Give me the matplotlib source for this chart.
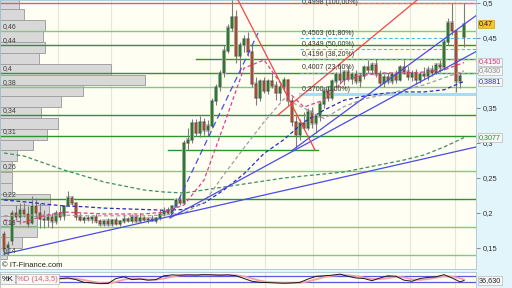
import matplotlib

matplotlib.use("Agg")

import matplotlib.pyplot as plt
from matplotlib.patches import Rectangle

plt.rcParams["font.family"] = ["Liberation Sans", "DejaVu Sans"]

# daily candles (index = session number)
opens = [.170, .150, .160, .200, .195, .205, .198, .186, .210, .200, .192, .190, .195, .188, .200,
         .196, .212, .222, .214, .195, .190, .193, .191, .194, .188, .184, .189, .184, .190, .185,
         .188, .191, .189, .195, .188, .193, .190, .192, .189, .193, .198, .203, .200, .210, .218,
         .215, .300, .305, .328, .315, .330, .318, .325, .360, .380, .400, .432, .465, .480, .425,
         .440, .448, .430, .385, .365, .388, .375, .388, .382, .372, .380, .390, .360, .330, .312,
         .328, .322, .345, .328, .338, .356, .375, .365, .388, .398, .390, .402, .392, .398, .388,
         .396, .408, .405, .412, .398, .386, .394, .388, .398, .390, .408, .402, .395, .400, .390,
         .398, .396, .405, .400, .412, .408, .445, .472, .460, .388, .452]
highs = [.175, .160, .205, .212, .215, .215, .210, .225, .222, .215, .205, .200, .200, .205, .210,
         .212, .232, .225, .216, .200, .196, .197, .195, .198, .192, .190, .193, .192, .194, .190,
         .199, .195, .198, .197, .200, .196, .194, .197, .195, .205, .208, .209, .212, .222, .224,
         .305, .322, .335, .335, .338, .336, .333, .365, .385, .405, .440, .470, .505, .490, .445,
         .455, .458, .440, .395, .392, .395, .392, .400, .388, .385, .395, .392, .366, .338, .335,
         .345, .350, .352, .342, .360, .380, .382, .392, .402, .412, .405, .410, .402, .404, .400,
         .412, .418, .416, .420, .405, .398, .400, .402, .405, .412, .418, .410, .404, .406, .402,
         .408, .410, .412, .415, .418, .448, .478, .500, .462, .402, .500]
lows = [.140, .140, .155, .190, .185, .195, .180, .185, .195, .178, .178, .180, .178, .185, .190,
        .190, .210, .212, .190, .188, .186, .188, .186, .186, .182, .182, .182, .182, .183, .182,
        .186, .187, .186, .187, .187, .188, .186, .188, .186, .190, .196, .198, .199, .208, .212,
        .213, .290, .300, .310, .308, .312, .310, .322, .355, .375, .395, .428, .460, .415, .400,
        .430, .425, .380, .355, .360, .372, .370, .378, .362, .360, .375, .355, .325, .293, .305,
        .320, .318, .322, .315, .332, .350, .360, .362, .380, .385, .383, .388, .385, .384, .380,
        .392, .400, .398, .395, .382, .380, .384, .385, .386, .388, .398, .390, .388, .385, .386,
        .392, .390, .396, .398, .402, .405, .440, .455, .373, .378, .437]
closes = [.148, .155, .200, .195, .205, .198, .185, .210, .200, .192, .190, .195, .188, .200, .195,
          .210, .222, .214, .195, .190, .193, .191, .194, .188, .184, .189, .184, .190, .185, .188,
          .191, .189, .195, .188, .193, .190, .192, .189, .193, .198, .203, .200, .210, .218, .215,
          .300, .305, .328, .315, .330, .318, .325, .360, .380, .400, .432, .465, .480, .425, .440,
          .448, .430, .385, .365, .388, .375, .388, .382, .372, .380, .390, .360, .330, .312, .328,
          .322, .345, .328, .338, .356, .375, .365, .388, .398, .390, .402, .392, .398, .388, .396,
          .408, .405, .412, .398, .386, .394, .388, .398, .390, .408, .402, .395, .400, .390, .398,
          .396, .405, .400, .412, .408, .445, .472, .460, .388, .396, .470]

# moving averages sampled every 5 sessions
ma_idx = [0, 5, 10, 15, 20, 25, 30, 35, 40, 45, 50, 55, 60, 65, 70, 75, 80, 85, 90, 95, 100, 105, 110, 115]
ma_pink = [.190, .187, .196, .2014, .200, .1986, .1986, .1986, .2014, .2114, .247, .326, .407, .4186,
           .3786, .3514, .3614, .390, .397, .400, .400, .4014, .4043, .4150]
ma_gray = [.196, .197, .197, .197, .196, .196, .196, .196, .197, .200, .215, .255, .293, .330,
           .363, .350, .335, .352, .363, .369, .376, .383, .393, .4030]
ma_blue = [.2186, .216, .213, .210, .209, .207, .206, .205, .204, .205, .214, .233, .256, .285,
           .305, .330, .347, .361, .367, .371, .373, .373, .376, .3881]
ma_green = [.2857, .2814, .2714, .2614, .2529, .2443, .2386, .2329, .230, .2286, .2329, .2371, .2414,
            .2457, .250, .2529, .2557, .2586, .2643, .270, .2757, .2829, .2943, .3077]

# support / resistance levels
green_levels = [0.46, 0.44, 0.40, 0.38, 0.34, 0.31, 0.26, 0.22, 0.18, 0.14]
green_labels = ["0,46", "0,44", "0,4", "0,38", "0,34", "0,31", "0,26", "0,22", "0,18", "0,14"]
green_dark = [False, True, True, False, True, True, False, True, False, False]

# fibonacci retracement
fib_levels = [0.3700, 0.4007, 0.4196, 0.4349, 0.4503, 0.4998]
fib_labels = ["0,3700 (0,00%)", "0,4007 (23,60%)", "0,4196 (38,20%)", "0,4349 (50,00%)",
              "0,4503 (61,80%)", "0,4998 (100,00%)"]
fib_start = 74

# trend lines (session, price)
blue_a = ([0, 118], [0.1414, 0.2943])
blue_b = ([41.5, 118], [0.1929, 0.4306])
blue_c = ([72, 118], [0.2893, 0.482])
blue_dash = ([41.5, 63.5], [0.1929, 0.4571])
red_down = ([58.5, 77.75], [0.5043, 0.290])
red_up = ([68.5, 112], [0.340, 0.5455])
line_029 = ([41, 78.5], [0.29, 0.29])
line_042 = ([48, 118], [0.42, 0.42])

# volume at price
hist_bins = [0.5063, 0.4908, 0.4753, 0.4598, 0.4443, 0.4288, 0.4133, 0.3978, 0.3823, 0.3668, 0.3513,
             0.3358, 0.3203, 0.3048, 0.2893, 0.2738, 0.2583, 0.2428, 0.2273, 0.2118, 0.1963, 0.1808,
             0.1653, 0.1498]
hist_vol = [19, 24, 45, 43, 45, 39, 111, 145, 83, 61, 41, 58, 47, 33, 17, 12, 12, 12, 50, 49, 37, 37, 22, 7]

grid_idx = [13.5, 26.75, 39.75, 51.5, 65.25, 77.25, 88.5, 101.5, 112.75]

# stochastic
stoch_idx = list(range(14, 115, 2)) + [115]
stoch_k = [54, 60, 45, 20, 15, 8, 10, 55, 70, 45, 50, 40, 45, 80, 88, 85, 88, 86, 90, 88, 85, 88, 80,
           55, 30, 20, 18, 15, 12, 15, 20, 50, 75, 80, 85, 95, 75, 60, 55, 35, 60, 80, 75, 40, 30,
           55, 65, 70, 90, 60, 25, 36.63]
stoch_d = [55, 56, 55, 42, 27, 14, 11, 24, 45, 57, 55, 45, 45, 55, 71, 84, 87, 86, 88, 88, 87, 87, 84,
           74, 55, 35, 23, 18, 15, 14, 16, 28, 48, 68, 80, 87, 85, 77, 63, 50, 50, 58, 72, 65, 48,
           42, 50, 63, 75, 73, 58, 45]

CREAM = "#fefef3"
fig = plt.figure(figsize=(5.12, 2.88), dpi=100, facecolor="#e2f5fb")
ax = fig.add_axes([0, 1 - 269 / 288, 476 / 512, 269 / 288], facecolor=CREAM)
ax2 = fig.add_axes([0, 0, 476 / 512, 16 / 288], facecolor=CREAM)

for a in (ax, ax2):
    a.set_xlim(-1, 118)
    for g in grid_idx:
        a.axvline(g, color="#e6e6d6", lw=0.8, zorder=0)
    for s in a.spines.values():
        s.set_color("#a9c4d2")
        s.set_linewidth(0.6)
    a.set_xticks([])

ax.set_ylim(0.12, 0.5043)

# volume profile
bin_h = hist_bins[0] - hist_bins[1]
scale = 36.25 / max(hist_vol)
ax.barh([b - bin_h / 2 for b in hist_bins], [v * scale for v in hist_vol], height=bin_h, left=-1,
        color="#d8d8d8", edgecolor="#a2a2a2", lw=0.7, zorder=1)

# levels
ax.axhline(0.5, color="#f05a5a", lw=1.0, zorder=2)
for lvl, lab, dark in zip(green_levels, green_labels, green_dark):
    ax.axhline(lvl, color="#2b962b" if dark else "#82c882", lw=1.0, zorder=2)
    ax.text(-0.3, lvl + 0.0012, lab, fontsize=5, color="#404040", va="bottom", zorder=6)
ax.plot(*line_029, color="#2b962b", lw=1.0, zorder=2)
ax.plot(*line_042, color="#2b962b", lw=1.0, zorder=2)

for k, (lvl, lab) in enumerate(zip(fib_levels, fib_labels)):
    if k == 0:
        ax.plot([fib_start, 118], [lvl, lvl], color="#a8dcf2", lw=2.2, zorder=2)
    else:
        ax.plot([fib_start, 118], [lvl, lvl], color="#45bdf0", lw=0.8, ls=(0, (3, 2)), zorder=2)
    # the 100% label is pushed just inside the top edge
    ax.text(fib_start + 0.5, min(lvl + 0.0015, 0.4962), lab, fontsize=5, color="#333333",
            va="bottom", zorder=6)

# candles
for i, (o, h, l, c) in enumerate(zip(opens, highs, lows, closes)):
    lo, hi = min(o, c), max(o, c)
    ax.add_patch(Rectangle((i - 0.45, lo - 0.002), 0.9, hi - lo + 0.004, fc="#c6c6c6", ec="none", zorder=3))
    ax.vlines(i, l, h, color="#7d7d7d", lw=0.8, zorder=3.5)
    col = "#1f9a1f" if c >= o else "#d8501f"
    ax.add_patch(Rectangle((i - 0.24, lo), 0.48, hi - lo, fc=col, ec="#2a2a2a", lw=0.3, zorder=4))

# moving averages
ax.plot(ma_idx, ma_green, color="#3f8f5f", lw=0.9, ls=(0, (3, 2)), zorder=5)
ax.plot(ma_idx, ma_blue, color="#2b2bc0", lw=0.9, ls=(0, (3, 2)), zorder=5)
ax.plot(ma_idx, ma_gray, color="#a0a0a0", lw=0.9, ls=(0, (3, 2)), zorder=5)
ax.plot(ma_idx, ma_pink, color="#e0408a", lw=0.9, ls=(0, (3, 2)), zorder=5)

# trend lines
for ln in (blue_a, blue_b, blue_c):
    ax.plot(*ln, color="#4b4be6", lw=0.9, zorder=5)
ax.plot(*blue_dash, color="#4b4be6", lw=0.9, ls=(0, (5, 3)), zorder=5)
for ln in (red_down, red_up):
    ax.plot(*ln, color="#f04848", lw=0.9, zorder=5)

ax.text(-0.5, 0.1257, "\u00a9 IT-Finance.com", fontsize=5.5, color="#222222", va="center", zorder=6)

# right price axis (0,4 is hidden behind the value tags in the source)
ticks = [0.15, 0.2, 0.25, 0.3, 0.35, 0.4, 0.45, 0.5]
ax.yaxis.tick_right()
ax.set_yticks(ticks)
ax.set_yticklabels(["" if t == 0.4 else f"{t:g}".replace(".", ",") for t in ticks])
ax.tick_params(axis="y", labelsize=5.5, length=3, width=0.6, color="#777777", labelcolor="#333333", pad=2)

tags = [(0.47, "0,47", "#222222", "#f5c52a", "#c9a020"),
        (0.4157, "0,4150", "#e0307a", "#f6f6f6", "#b8b8b8"),
        (0.4030, "0,4030", "#8a8a8a", "#f6f6f6", "#b8b8b8"),
        (0.3872, "0,3881", "#2e2ec0", "#f6f6f6", "#b8b8b8"),
        (0.3077, "0,3077", "#2a8a2a", "#f6f6f6", "#b8b8b8")]
for val, txt, tc, fc, ec in tags:
    ax.text(1.006, val, txt, transform=ax.get_yaxis_transform(), fontsize=5.2, color=tc,
            va="center", ha="left", clip_on=False, zorder=10,
            bbox=dict(boxstyle="square,pad=0.12", fc=fc, ec=ec, lw=0.5))

# stochastic panel
ax2.set_ylim(-31.4, 114.3)
ax2.set_yticks([])
ax2.axhline(80, color="#5a5ae0", lw=0.9)
ax2.axhline(20, color="#5a5ae0", lw=0.9)
ax2.plot(stoch_idx, stoch_d, color="#f2a0aa", lw=1.3, zorder=3)
ax2.plot(stoch_idx, stoch_k, color="#1a1a1a", lw=0.7, zorder=4)
ax2.text(0.004, 50, "%K", transform=ax2.get_yaxis_transform(), fontsize=5.5, color="#111111",
         va="center", bbox=dict(boxstyle="square,pad=0.2", fc="#f2f2f2", ec="#b0b0b0", lw=0.5))
ax2.text(0.036, 50, "%D (14,3,5)", transform=ax2.get_yaxis_transform(), fontsize=5.5, color="#e05a6a",
         va="center", bbox=dict(boxstyle="square,pad=0.2", fc="#f8f8f8", ec="#b0b0b0", lw=0.5))
ax2.text(1.006, stoch_k[-1], "36,630", transform=ax2.get_yaxis_transform(), fontsize=5.2, color="#222222",
         va="center", ha="left", clip_on=False,
         bbox=dict(boxstyle="square,pad=0.15", fc="#f6f6f6", ec="#b8b8b8", lw=0.5))

fig.savefig("out.png", dpi=100, facecolor=fig.get_facecolor())
plt.close(fig)
